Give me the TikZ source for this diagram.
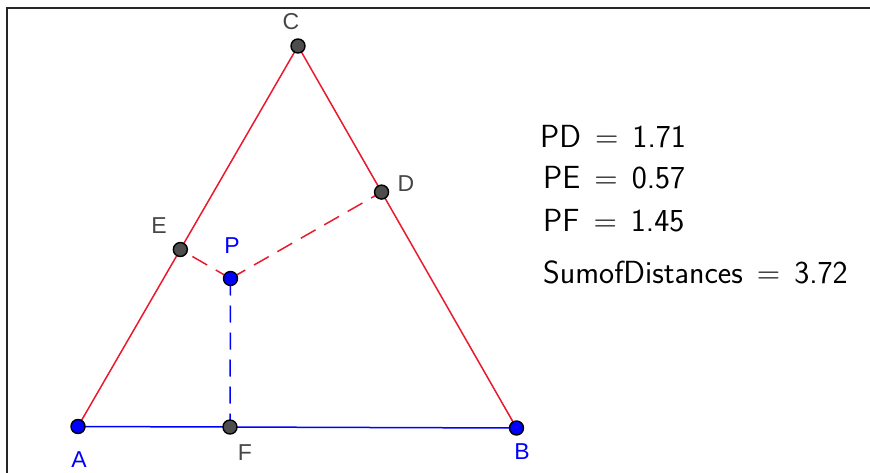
\documentclass[tikz,border=0pt]{standalone}
\usepackage{fontspec}
\newfontfamily\etfont{Liberation Sans}
\usetikzlibrary{calc}
\definecolor{rosso}{RGB}{235,25,45}
\definecolor{blu}{RGB}{0,0,255}
\definecolor{grigio}{RGB}{77,77,77}
\definecolor{grigiotesto}{RGB}{70,70,70}
\newcommand{\uguale}{\hspace{14pt}=\hspace{14pt}}
\begin{document}
\begin{tikzpicture}[x=1pt, y=-1pt]
% Stili per punti, lati e tratteggi
\tikzset{punto/.style={circle,draw=black,line width=1.4pt,fill=grigio,inner sep=0pt,minimum size=14pt}}
\tikzset{puntoblu/.style={punto,fill=blu}}
\tikzset{lato/.style={line width=1.5pt}}
\tikzset{tratto/.style={line width=1.5pt,dash pattern=on 17pt off 10pt}}
\tikzset{etich/.style={font=\etfont\fontsize{23}{23}\selectfont,text=grigiotesto}}
\tikzset{misura/.style={font=\sffamily\fontsize{32}{34}\selectfont,anchor=base west,inner sep=0pt}}

\useasboundingbox (0,0) rectangle (870,473);

% Cornice
\draw[line width=2pt, black!85] (7,473) -- (7,8) -- (870,8);

% Vertici del triangolo e punto P
\coordinate (pA) at (78,426.5);
\coordinate (pB) at (516.5,428);
\coordinate (pC) at (298,46);
\coordinate (pP) at (230.5,278.5);

% Piedi delle perpendicolari
\coordinate (pD) at ($(pC)!(pP)!(pB)$);
\coordinate (pE) at ($(pA)!(pP)!(pC)$);
\coordinate (pF) at ($(pA)!(pP)!(pB)$);

% --- LATI ---
\draw[lato, rosso] (pA) -- (pC) -- (pB);
\draw[lato, blu] (pA) -- (pB);

% --- DISTANZE (TRATTEGGIATE) ---
\draw[tratto, rosso] (pP) -- (pD);
\draw[tratto, rosso] (pP) -- (pE);
\draw[tratto, blu] (pP) -- (pF);

% --- PUNTI ---
\node[puntoblu] (A) at (pA) {};
\node[puntoblu] (B) at (pB) {};
\node[punto] (C) at (pC) {};
\node[punto] (D) at (pD) {};
\node[punto] (E) at (pE) {};
\node[punto] (F) at (pF) {};
\node[puntoblu] (P) at (pP) {};

% Etichette dei punti
\node[etich] (lC) at (291,22) {C};
\node[etich] (lD) at (406,184) {D};
\node[etich] (lE) at (159,226) {E};
\node[etich, text=blu] (lP) at (232,246) {P};
\node[etich, text=blu] (lA) at (79,460) {A};
\node[etich] (lF) at (245,453) {F};
\node[etich, text=blu] (lB) at (522,452) {B};

% --- VALORI ---
\node[misura] (vPD) at (540,148) {PD\uguale1.71};
\node[misura] (vPE) at (543,189) {PE\uguale0.57};
\node[misura] (vPF) at (543,232) {PF\uguale1.45};
\node[misura] (vSum) at (543,283) {SumofDistances\uguale3.72};

\end{tikzpicture}
\end{document}
